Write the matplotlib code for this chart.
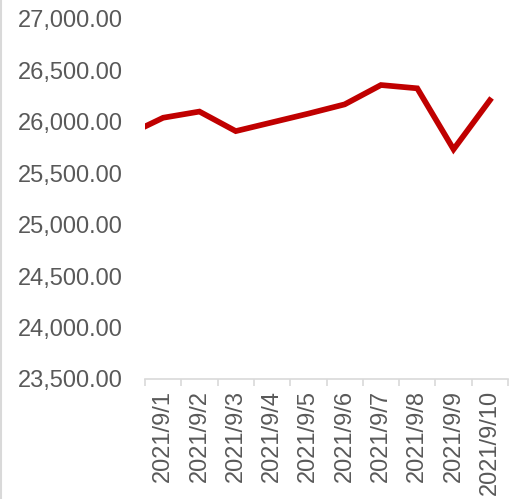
import matplotlib
matplotlib.use("Agg")
import matplotlib.pyplot as plt
from matplotlib.lines import Line2D
from matplotlib.ticker import FuncFormatter

# Data (the line enters from a prior, off-axis point before 2021/9/1)
prev_value = 25870
categories = ["2021/9/1", "2021/9/2", "2021/9/3", "2021/9/4", "2021/9/5",
              "2021/9/6", "2021/9/7", "2021/9/8", "2021/9/9", "2021/9/10"]
values = [26040, 26100, 25910, 25995, 26080, 26170, 26358, 26326, 25733, 26210]
y_ticks = [23500, 24000, 24500, 25000, 25500, 26000, 26500, 27000]

plt.rcParams['font.family'] = ['Liberation Sans', 'DejaVu Sans']

fig = plt.figure(figsize=(5.17, 4.99), dpi=100)
ax = fig.add_axes([145/517, 1-379/499, (508-145)/517, 360/499])

xs = list(range(-1, len(categories)))
ys = [prev_value] + values
ax.plot(xs, ys, color="#C00000", linewidth=4.1, solid_joinstyle="miter", clip_on=True)

ax.set_xlim(-0.5, len(categories) - 0.5)
ax.set_ylim(23500, 27000)
ax.set_yticks(y_ticks)
ax.yaxis.set_major_formatter(FuncFormatter(lambda v, p: f"{v:,.2f}"))
ax.set_xticks([i - 0.5 for i in range(len(categories) + 1)], minor=False)
ax.set_xticklabels([])
ax.set_xticks(range(len(categories)), minor=True)
ax.set_xticklabels(categories, minor=True, rotation=90)

for s in ["top", "right", "left"]:
    ax.spines[s].set_visible(False)
ax.spines["bottom"].set_color("#D9D9D9")
ax.spines["bottom"].set_linewidth(1.2)

ax.tick_params(axis="y", length=0, pad=16, labelsize=17, labelcolor="#595959")
ax.tick_params(axis="x", which="major", length=5, color="#D9D9D9", width=1.2)
ax.tick_params(axis="x", which="minor", length=0, pad=8, labelsize=17, labelcolor="#595959")

fig.add_artist(Line2D([0.002, 0.002], [0, 1], color="#D9D9D9", linewidth=1.5, transform=fig.transFigure))

fig.savefig("out.png", dpi=100)
